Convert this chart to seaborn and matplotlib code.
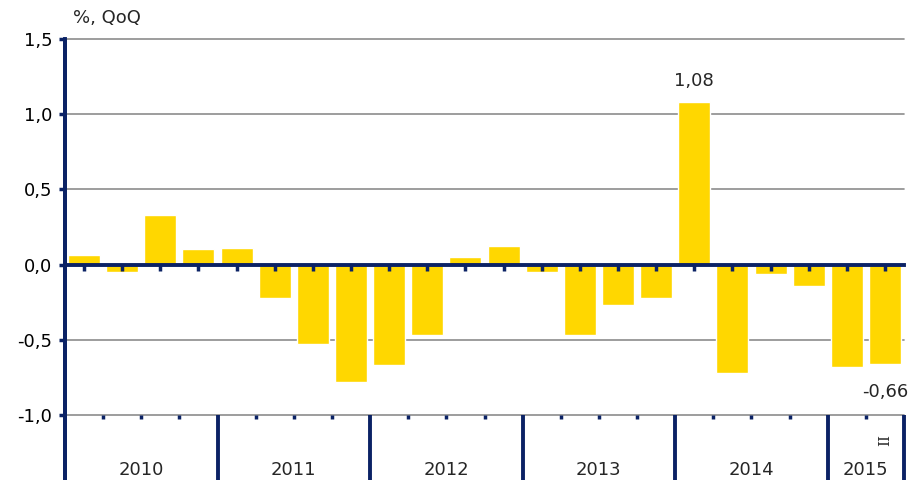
import numpy as np
import pandas as pd
import matplotlib
matplotlib.use("Agg")
import matplotlib.pyplot as plt
from matplotlib.ticker import FuncFormatter
import seaborn as sns

# quarterly change, %, QoQ (2010 Q1 .. 2015 Q2)
quarters = [f"{y} Q{q}" for y in range(2010, 2016) for q in range(1, 5)][:22]
values = [0.06, -0.05, 0.33, 0.10,
          0.11, -0.22, -0.53, -0.78,
          -0.67, -0.47, 0.05, 0.12,
          -0.05, -0.47, -0.27, -0.22,
          1.08, -0.72, -0.06, -0.14,
          -0.68, -0.66]
years = ["2010", "2011", "2012", "2013", "2014", "2015"]
year_counts = [4, 4, 4, 4, 4, 2]
labelled = {16: "1,08", 21: "-0,66"}

navy = "#0B2265"
gold = "#FFD700"
grid_gray = "#8C8C8C"
fs = 13

sns.set_style("white")
plt.rcParams["font.family"] = ["DejaVu Sans"]

df = pd.DataFrame({"quarter": quarters, "value": values})

fig = plt.figure(figsize=(9.1, 4.8), dpi=100)
ax = fig.add_axes([65 / 910, 0.0, 839 / 910, 1 - 39 / 480])

sns.barplot(data=df, x="quarter", y="value", color=gold, saturation=1,
            width=0.84, ax=ax, zorder=2)

ax.set_xlim(-0.5, len(values) - 0.5)
ax.set_ylim(-1.0 - 65 / 150, 1.5)
ax.set_axisbelow(False)

# horizontal grid
for g in [1.5, 1.0, 0.5, -0.5, -1.0]:
    ax.axhline(g, color=grid_gray, lw=1.2, zorder=1, clip_on=False)

# spines
for s in ["top", "right"]:
    ax.spines[s].set_visible(False)
ax.spines["left"].set_color(navy)
ax.spines["left"].set_linewidth(2.8)
ax.spines["bottom"].set_position(("data", 0))
ax.spines["bottom"].set_color(navy)
ax.spines["bottom"].set_linewidth(2.8)
ax.spines["bottom"].set_zorder(3)

# y ticks
ax.set_yticks([1.5, 1.0, 0.5, 0.0, -0.5, -1.0])
ax.yaxis.set_major_formatter(FuncFormatter(lambda v, p: f"{v:.1f}".replace(".", ",")))
ax.tick_params(axis="y", direction="out", length=4, width=2.5, color=navy,
               labelsize=fs, labelcolor="black", pad=5, left=True)

# x ticks at bar centres on the zero line
ax.set_xticks(range(len(values)))
ax.set_xticklabels([""] * len(values))
ax.tick_params(axis="x", direction="out", length=4, width=2.5, color=navy, bottom=True)
ax.set_xlabel("")
ax.set_ylabel("")

# category axis at the bottom: minor ticks and year separators
bounds = np.cumsum(year_counts) - 0.5
inner = [b for b in np.arange(0.5, len(values) - 0.5, 1.0) if b not in bounds]
ax.vlines(inner, -1.0 - 4 / 150, -1.0, color=navy, lw=2.5, zorder=3)
ax.vlines(bounds, ax.get_ylim()[0], -1.0, color=navy, lw=2.8, zorder=3, clip_on=False)
ax.vlines([-0.5], ax.get_ylim()[0], 1.5, color=navy, lw=2.8, zorder=3, clip_on=False)

start = -0.5
for y, n in zip(years, year_counts):
    ax.text(start + n / 2, -1.37, y, ha="center", va="center", fontsize=fs)
    start += n
ax.text(len(values) - 1, -1.17, "II", ha="center", va="center",
        fontsize=11, rotation=90, family="DejaVu Serif")

# data labels
for i, txt in labelled.items():
    v = values[i]
    if v > 0:
        ax.text(i, v + 0.08, txt, ha="center", va="bottom", fontsize=fs)
    else:
        ax.text(i, v - 0.19, txt, ha="center", va="center", fontsize=fs)

fig.text(73 / 910, 1 - 18 / 480, "%, QoQ", ha="left", va="center", fontsize=fs)

fig.savefig("out.png", dpi=100)
